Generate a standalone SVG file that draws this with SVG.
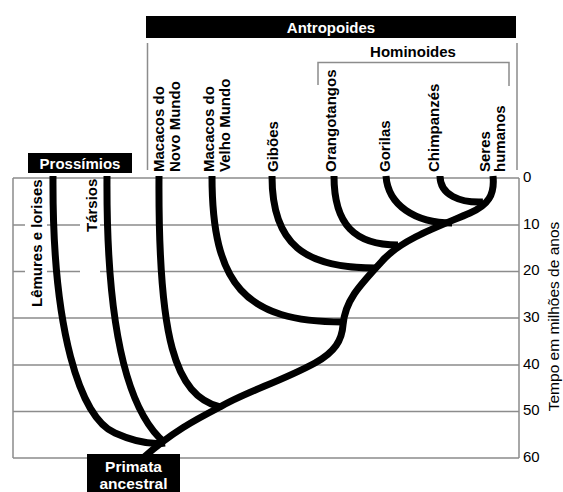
<svg xmlns="http://www.w3.org/2000/svg" width="563" height="492" viewBox="0 0 563 492">
<style>
.grid{stroke:#8c8c8c;stroke-width:1.5;fill:none}
.br{stroke:#000;stroke-width:7;fill:none;stroke-linecap:butt;stroke-linejoin:round}
.lbl{font-family:"Liberation Sans",Arial,sans-serif;font-weight:bold;font-size:15px;fill:#000}
.wht{font-family:"Liberation Sans",Arial,sans-serif;font-weight:bold;font-size:15px;fill:#fff;text-anchor:middle}
.num{font-family:"Liberation Sans",Arial,sans-serif;font-size:15px;fill:#000}
.box{fill:#000}
</style>
<rect width="563" height="492" fill="#fff"/>
<g id="grid">
<path class="grid" d="M13,178H519M13,318H519M13,365H519M13,411.5H519M13,458H519M13,178V458M519,178V458"/>
<path class="grid" d="M13,225H25M47,225H80M100,225H519M13,271.5H25M47,271.5H80M100,271.5H519"/>
</g>
<g id="axis">
<text class="num" x="523" y="181.5">0</text>
<text class="num" x="523" y="228.5">10</text>
<text class="num" x="523" y="275">20</text>
<text class="num" x="523" y="321.5">30</text>
<text class="num" x="523" y="368.5">40</text>
<text class="num" x="523" y="415">50</text>
<text class="num" x="523" y="461.5">60</text>
<text class="num" style="font-size:15.5px" text-anchor="middle" transform="translate(559,316.5) rotate(-90)">Tempo em milhões de anos</text>
</g>
<g id="connectors">
<path class="br" d="M53,176 C52,330 80,418 115,433 C135,442 150,445 165,443"/>
<path class="br" d="M107,176 C106,330 128,412 165,443"/>
<path class="br" d="M159,176 C158,340 175,395 220,407"/>
<path class="br" d="M212,176 C212,285 245,322 343,322"/>
<path class="br" d="M272,176 C272,245 305,268 375,268"/>
<path class="br" d="M334,176 C334,225 355,245 398,245"/>
<path class="br" d="M386,176 C388,205 415,223 452,223"/>
<path class="br" d="M440,176 C440,195 460,203 483,202"/>
<path class="br" d="M493,176 C495,195 488,205 470,213 C440,226 405,238 385,258 C360,285 345,300 343,325 C342,340 335,352 315,363 C280,382 245,392 220,407 C195,420 172,432 143,458"/>
</g>
<g id="prossimios">
<rect class="box" x="28" y="153" width="104" height="20"/>
<text class="wht" x="80" y="169">Prossímios</text>
</g>
<g id="antropoides">
<rect class="box" x="146" y="16" width="370" height="22"/>
<text class="wht" x="331" y="33">Antropoides</text>
<path class="grid" d="M147.5,43V170M517,43V170"/>
</g>
<g id="hominoides">
<text class="lbl" x="413" y="57" text-anchor="middle">Hominoides</text>
<path class="grid" d="M318,85V62.5H509V86"/>
</g>
<g id="lemures"><text class="lbl" transform="translate(42,307) rotate(-90)">Lêmures e lorises</text></g>
<g id="tarsios"><text class="lbl" transform="translate(97,232) rotate(-90)">Társios</text></g>
<g id="macacos-novo">
<text class="lbl" transform="translate(164,172) rotate(-90)">Macacos do</text>
<text class="lbl" transform="translate(180,172) rotate(-90)">Novo Mundo</text>
</g>
<g id="macacos-velho">
<text class="lbl" transform="translate(214,172) rotate(-90)">Macacos do</text>
<text class="lbl" transform="translate(230,172) rotate(-90)">Velho Mundo</text>
</g>
<g id="giboes"><text class="lbl" transform="translate(278,172) rotate(-90)">Gibões</text></g>
<g id="orangotangos"><text class="lbl" transform="translate(336,172) rotate(-90)">Orangotangos</text></g>
<g id="gorilas"><text class="lbl" transform="translate(390,172) rotate(-90)">Gorilas</text></g>
<g id="chimpanzes"><text class="lbl" transform="translate(439,172) rotate(-90)">Chimpanzés</text></g>
<g id="humanos">
<text class="lbl" transform="translate(489.5,172) rotate(-90)">Seres</text>
<text class="lbl" transform="translate(505,172) rotate(-90)">humanos</text>
</g>
<g id="primata">
<rect class="box" x="87" y="454" width="93" height="38"/>
<text class="wht" style="font-size:15.5px" x="133.5" y="472">Primata</text>
<text class="wht" style="font-size:15.5px" x="133.5" y="489">ancestral</text>
</g>
</svg>
